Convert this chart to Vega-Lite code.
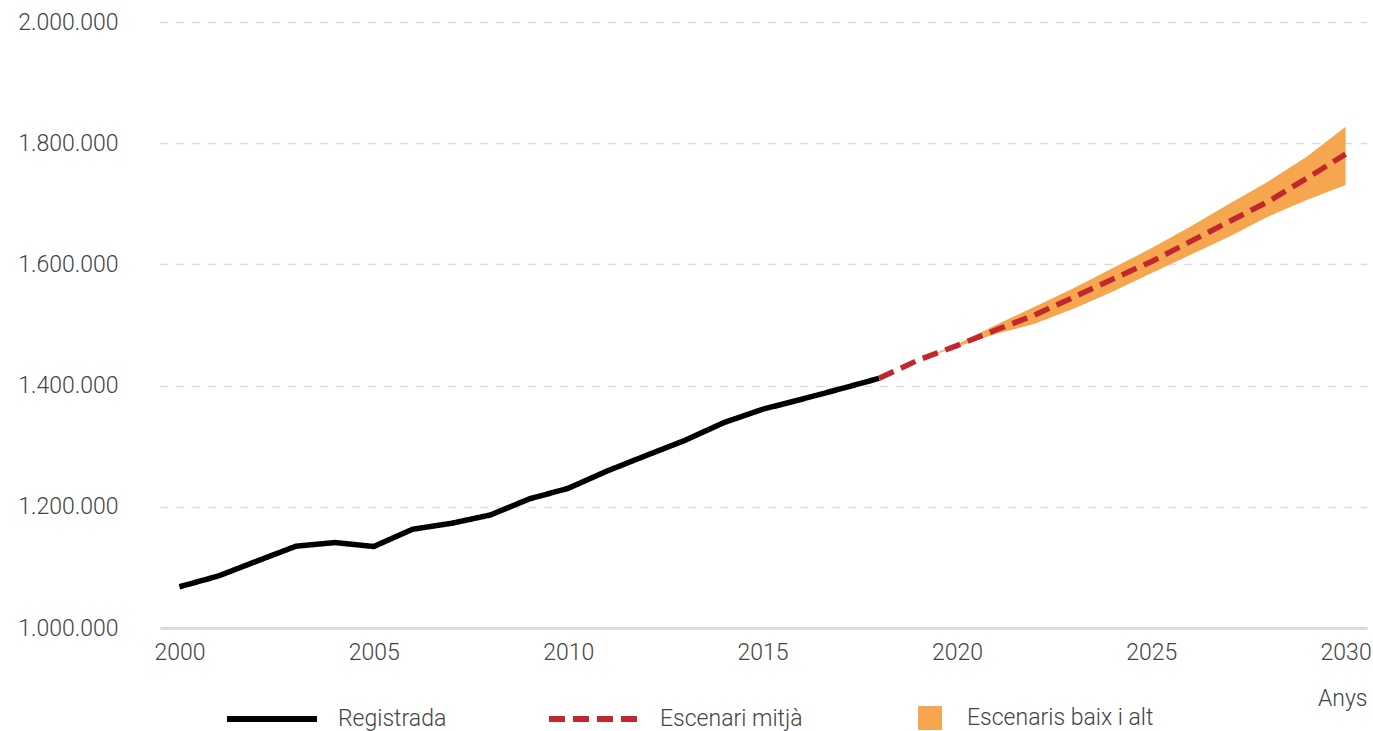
{
  "$schema": "https://vega.github.io/schema/vega-lite/v6.json",
  "width": 1207,
  "height": 606,
  "autosize": "none",
  "padding": {"left": 160, "top": 22, "right": 6, "bottom": 103},
  "config": {
    "locale": {"number": {"decimal": ",", "thousands": ".", "grouping": [3], "currency": ["", " €"]}},
    "view": {"stroke": null},
    "font": "Roboto",
    "axis": {"labelFont": "Roboto", "labelFontWeight": 300, "labelFontSize": 23, "labelColor": "#444444", "labelFlush": false}
  },
  "datasets": {
    "lines": [
      {"year": 2000, "value": 1068000, "serie": "Registrada"},
      {"year": 2001, "value": 1085800, "serie": "Registrada"},
      {"year": 2002, "value": 1110600, "serie": "Registrada"},
      {"year": 2003, "value": 1135000, "serie": "Registrada"},
      {"year": 2004, "value": 1141000, "serie": "Registrada"},
      {"year": 2005, "value": 1134500, "serie": "Registrada"},
      {"year": 2006, "value": 1163000, "serie": "Registrada"},
      {"year": 2007, "value": 1172800, "serie": "Registrada"},
      {"year": 2008, "value": 1186500, "serie": "Registrada"},
      {"year": 2009, "value": 1213000, "serie": "Registrada"},
      {"year": 2010, "value": 1230500, "serie": "Registrada"},
      {"year": 2011, "value": 1259000, "serie": "Registrada"},
      {"year": 2012, "value": 1284500, "serie": "Registrada"},
      {"year": 2013, "value": 1309500, "serie": "Registrada"},
      {"year": 2014, "value": 1338800, "serie": "Registrada"},
      {"year": 2015, "value": 1360900, "serie": "Registrada"},
      {"year": 2016, "value": 1377400, "serie": "Registrada"},
      {"year": 2017, "value": 1394500, "serie": "Registrada"},
      {"year": 2018, "value": 1412000, "serie": "Registrada"},
      {"year": 2018, "value": 1412000, "serie": "Escenari mitjà"},
      {"year": 2019, "value": 1442000, "serie": "Escenari mitjà"},
      {"year": 2020, "value": 1466000, "serie": "Escenari mitjà"},
      {"year": 2021, "value": 1491700, "serie": "Escenari mitjà"},
      {"year": 2022, "value": 1516500, "serie": "Escenari mitjà"},
      {"year": 2023, "value": 1545700, "serie": "Escenari mitjà"},
      {"year": 2024, "value": 1575400, "serie": "Escenari mitjà"},
      {"year": 2025, "value": 1604500, "serie": "Escenari mitjà"},
      {"year": 2026, "value": 1637500, "serie": "Escenari mitjà"},
      {"year": 2027, "value": 1670500, "serie": "Escenari mitjà"},
      {"year": 2028, "value": 1703500, "serie": "Escenari mitjà"},
      {"year": 2029, "value": 1742000, "serie": "Escenari mitjà"},
      {"year": 2030, "value": 1782000, "serie": "Escenari mitjà"}
    ],
    "band": [
      {"year": 2019, "low": 1442000, "high": 1442000},
      {"year": 2020, "low": 1464000, "high": 1468000},
      {"year": 2021, "low": 1485000, "high": 1500000},
      {"year": 2022, "low": 1502000, "high": 1530000},
      {"year": 2023, "low": 1527000, "high": 1560500},
      {"year": 2024, "low": 1555000, "high": 1593500},
      {"year": 2025, "low": 1585300, "high": 1626500},
      {"year": 2026, "low": 1615500, "high": 1662300},
      {"year": 2027, "low": 1645700, "high": 1699700},
      {"year": 2028, "low": 1678700, "high": 1736500},
      {"year": 2029, "low": 1706300, "high": 1777700},
      {"year": 2030, "low": 1731000, "high": 1827000}
    ]
  },
  "layer": [
    {
      "data": {"name": "band"},
      "mark": {"type": "area", "opacity": 1},
      "encoding": {
        "x": {
          "field": "year", "type": "quantitative",
          "scale": {"domain": [1999.5, 2030.55], "nice": false, "zero": false},
          "axis": {
            "values": [2000, 2005, 2010, 2015, 2020, 2025, 2030],
            "format": "d", "grid": false, "ticks": false,
            "domainColor": "#dcdcdc", "domainWidth": 3,
            "labelPadding": 13,
            "title": "Anys", "titleX": 1207, "titleY": 70,
            "titleAlign": "right", "titleBaseline": "middle",
            "titleFont": "Roboto", "titleFontSize": 23, "titleFontWeight": 300, "titleColor": "#444444"
          }
        },
        "y": {
          "field": "low", "type": "quantitative",
          "scale": {"domain": [1000000, 2000000], "nice": false, "zero": false},
          "axis": {
            "values": [1000000, 1200000, 1400000, 1600000, 1800000, 2000000],
            "format": ",.0f", "grid": true, "gridColor": "#dcdcdc", "gridDash": [8, 8], "gridWidth": 1.5,
            "domain": false, "ticks": false, "labelPadding": 42, "title": null
          }
        },
        "y2": {"field": "high"},
        "fill": {
          "datum": "Escenaris baix i alt", "type": "nominal",
          "scale": {"range": ["#F6A64F"]},
          "legend": {
            "orient": "none", "legendX": 758, "legendY": 684, "title": null,
            "symbolType": "square", "symbolSize": 576, "symbolOpacity": 1, "symbolStrokeWidth": 0,
            "labelOffset": 25, "labelLimit": 400, "labelFont": "Roboto", "labelFontWeight": 300, "labelFontSize": 23, "labelColor": "#444444"
          }
        }
      }
    },
    {
      "data": {"name": "lines"},
      "mark": {"type": "line", "strokeWidth": 5.5},
      "encoding": {
        "x": {"field": "year", "type": "quantitative"},
        "y": {"field": "value", "type": "quantitative"},
        "color": {
          "field": "serie", "type": "nominal",
          "scale": {"domain": ["Registrada", "Escenari mitjà"], "range": ["#000000", "#C0282D"]},
          "legend": {
            "orient": "none", "legendX": 64, "legendY": 649, "title": null, "direction": "horizontal",
            "symbolType": "stroke", "symbolSize": 8100, "symbolStrokeWidth": 6,
            "labelOffset": 18, "columnPadding": 90, "labelLimit": 400,
            "labelFont": "Roboto", "labelFontWeight": 300, "labelFontSize": 23, "labelColor": "#444444"
          }
        },
        "strokeDash": {
          "field": "serie", "type": "nominal",
          "scale": {"domain": ["Registrada", "Escenari mitjà"], "range": [[1, 0], [16, 8]]},
          "legend": {
            "orient": "none", "legendX": 64, "legendY": 649, "title": null, "direction": "horizontal",
            "symbolType": "stroke", "symbolSize": 8100, "symbolStrokeWidth": 6,
            "labelOffset": 18, "columnPadding": 90, "labelLimit": 400,
            "labelFont": "Roboto", "labelFontWeight": 300, "labelFontSize": 23, "labelColor": "#444444"
          }
        }
      }
    }
  ]
}
